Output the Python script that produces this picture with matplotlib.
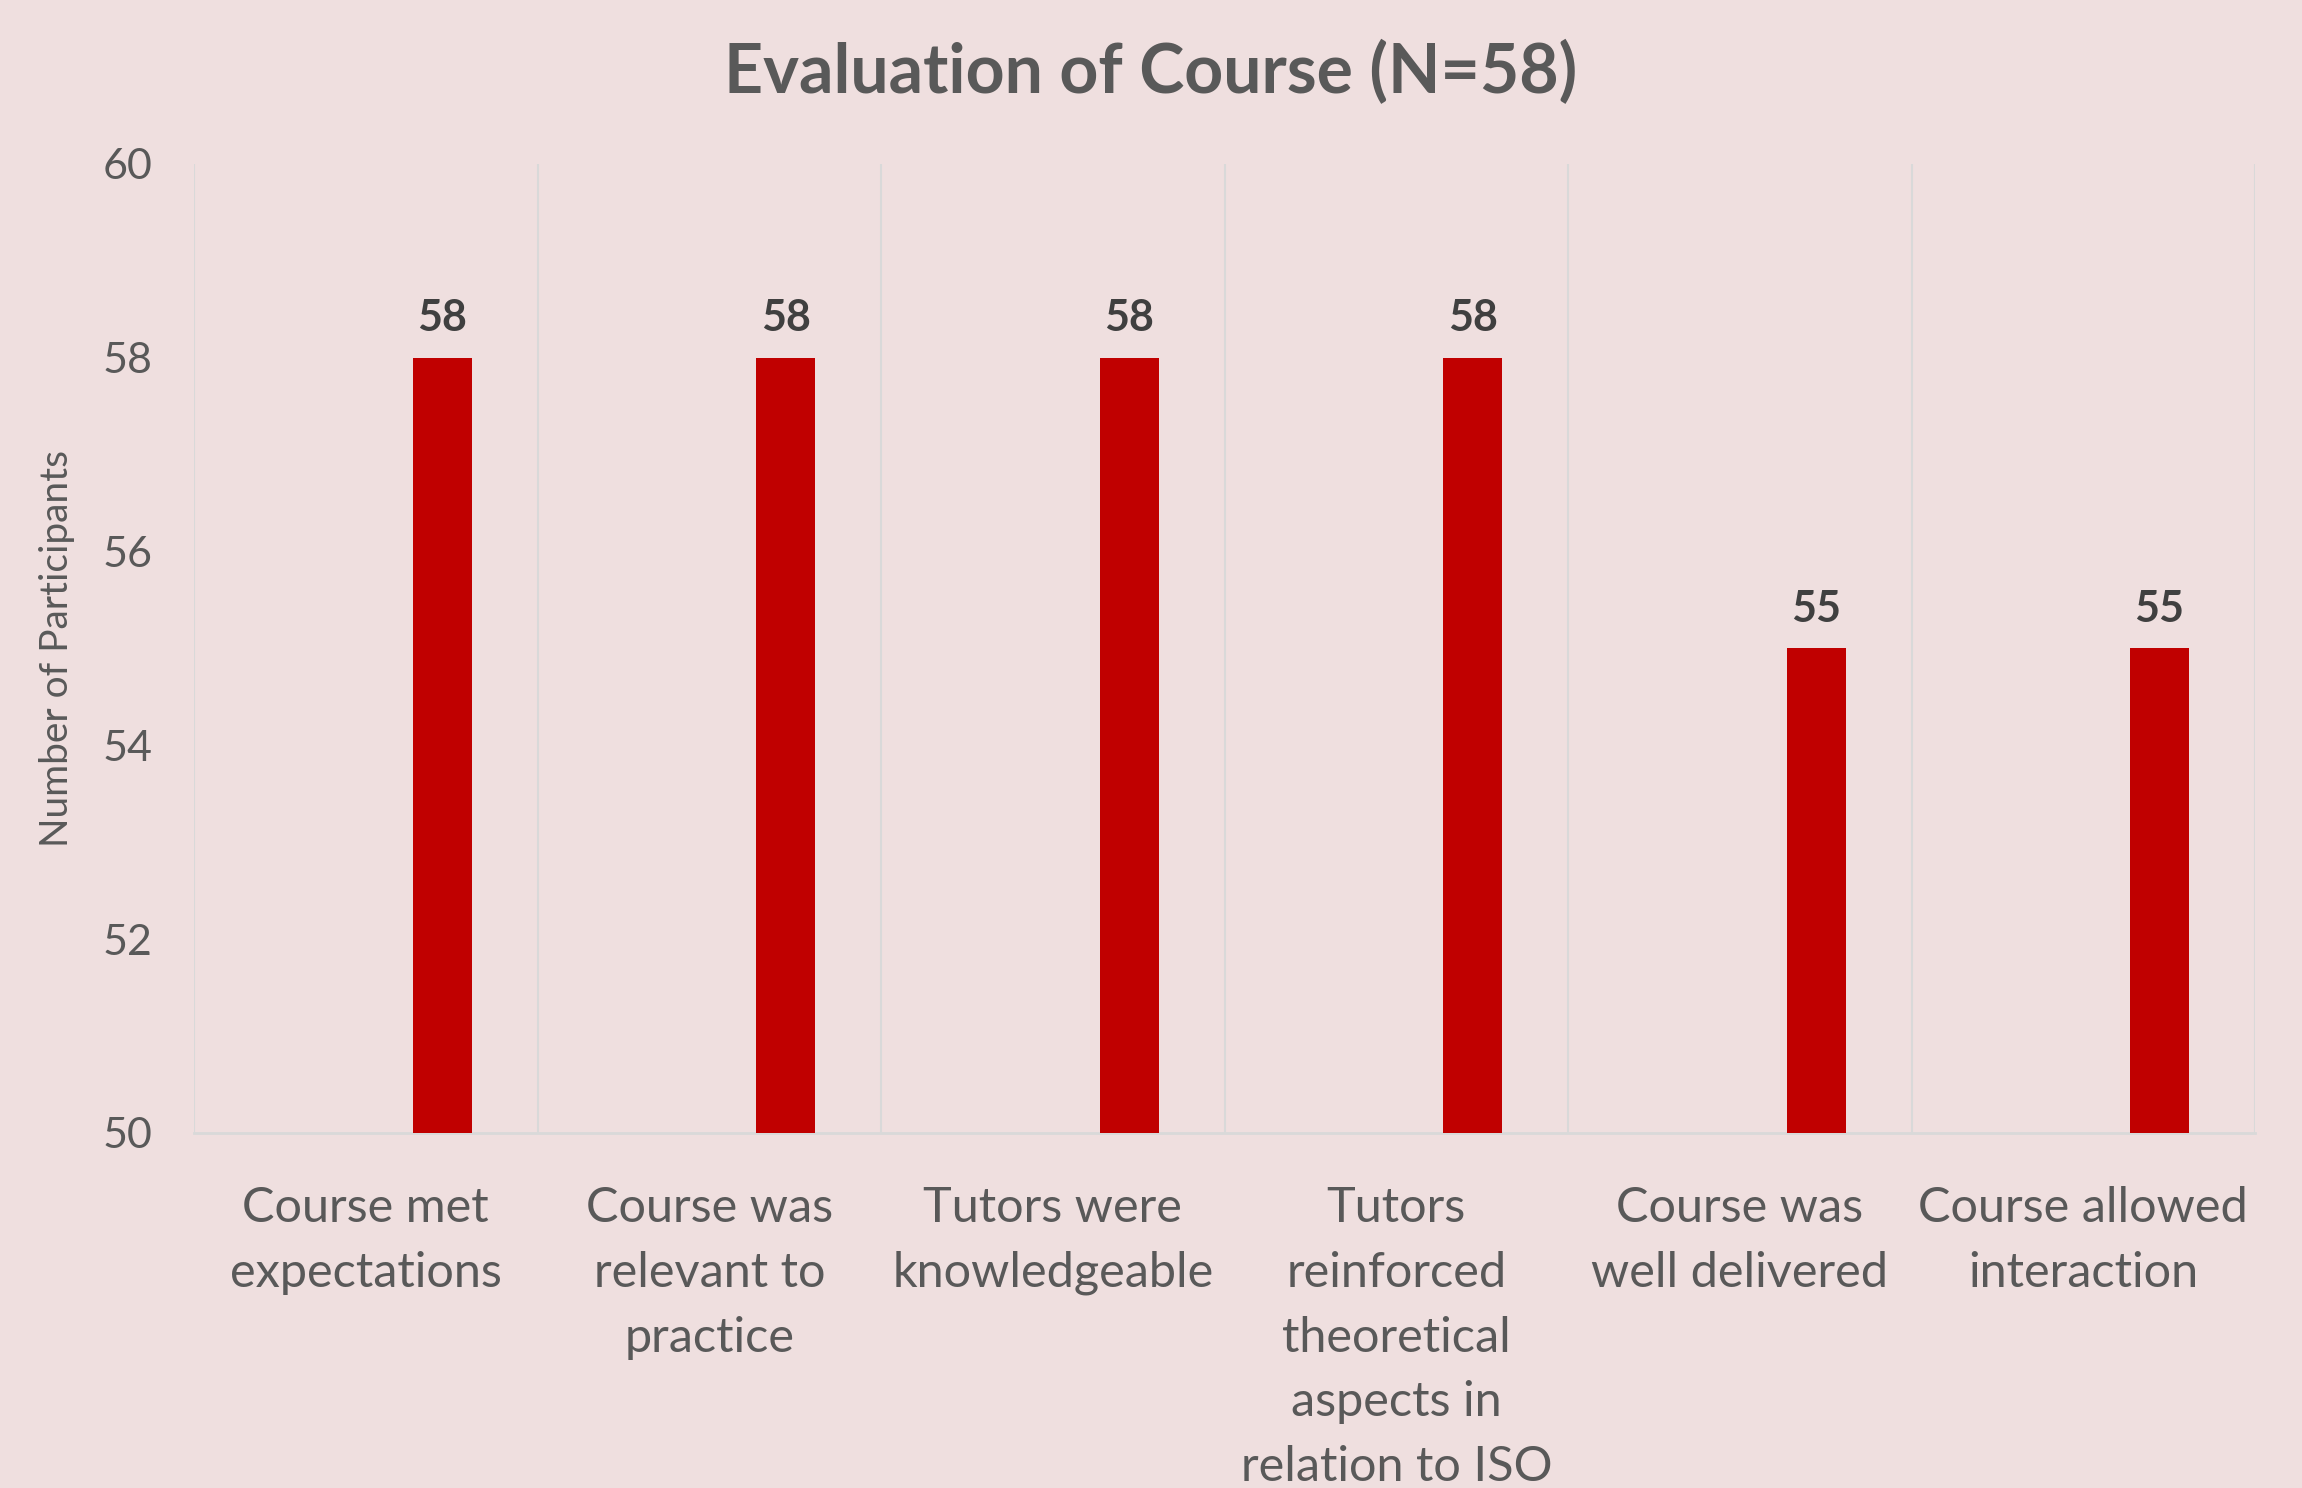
import matplotlib.pyplot as plt
import numpy as np

# data
categories = ["Course met\nexpectations",
              "Course was\nrelevant to\npractice",
              "Tutors were\nknowledgeable",
              "Tutors\nreinforced\ntheoretical\naspects in\nrelation to ISO",
              "Course was\nwell delivered",
              "Course allowed\ninteraction"]
participants = [58, 58, 58, 58, 55, 55]
yticks = [50, 52, 54, 56, 58, 60]

bg = "#EFDFDF"
txt = "#595959"
grid = "#D9D9D9"

plt.rcParams['font.family'] = ['Lato', 'DejaVu Sans']

fig = plt.figure(figsize=(23.02, 14.88), dpi=100, facecolor=bg)
ax = fig.add_axes([0.0843, 0.2386, 0.8953, 0.6512])
ax.set_facecolor(bg)

x = np.arange(len(categories))
bars = ax.bar(x + 0.222, participants, width=0.172, bottom=0,
              color="#C00000", zorder=3)

for b, v in zip(bars, participants):
    ax.text(b.get_x() + b.get_width() / 2, v + 0.2, str(v), ha="center",
            va="bottom", fontsize=31, fontweight="bold", color="#404040")

ax.set_xlim(-0.5, len(categories) - 0.5)
ax.set_ylim(50, 60)
ax.set_yticks(yticks)
ax.set_yticklabels([str(t) for t in yticks], fontsize=31, color=txt)
ax.tick_params(axis="y", length=0, pad=30)

ax.set_xticks(x)
ax.set_xticklabels(categories, fontsize=35, color=txt, linespacing=1.58)
ax.tick_params(axis="x", length=0, pad=38)

# vertical gridlines at category boundaries
ax.set_xticks(np.arange(-0.5, len(categories)), minor=True)
ax.tick_params(axis="x", which="minor", length=0)
ax.grid(axis="x", which="minor", color=grid, linewidth=1.5, zorder=0)
ax.grid(axis="x", which="major", visible=False)

for s in ["top", "right", "left"]:
    ax.spines[s].set_visible(False)
ax.spines["bottom"].set_color(grid)
ax.spines["bottom"].set_linewidth(2)

ax.set_ylabel("Number of Participants", fontsize=28, color=txt, labelpad=20)

fig.suptitle("Evaluation of Course (N=58)", fontsize=49, fontweight="bold",
             color=txt, y=0.951, va="center")

fig.savefig("out.png", dpi=100, facecolor=bg)
